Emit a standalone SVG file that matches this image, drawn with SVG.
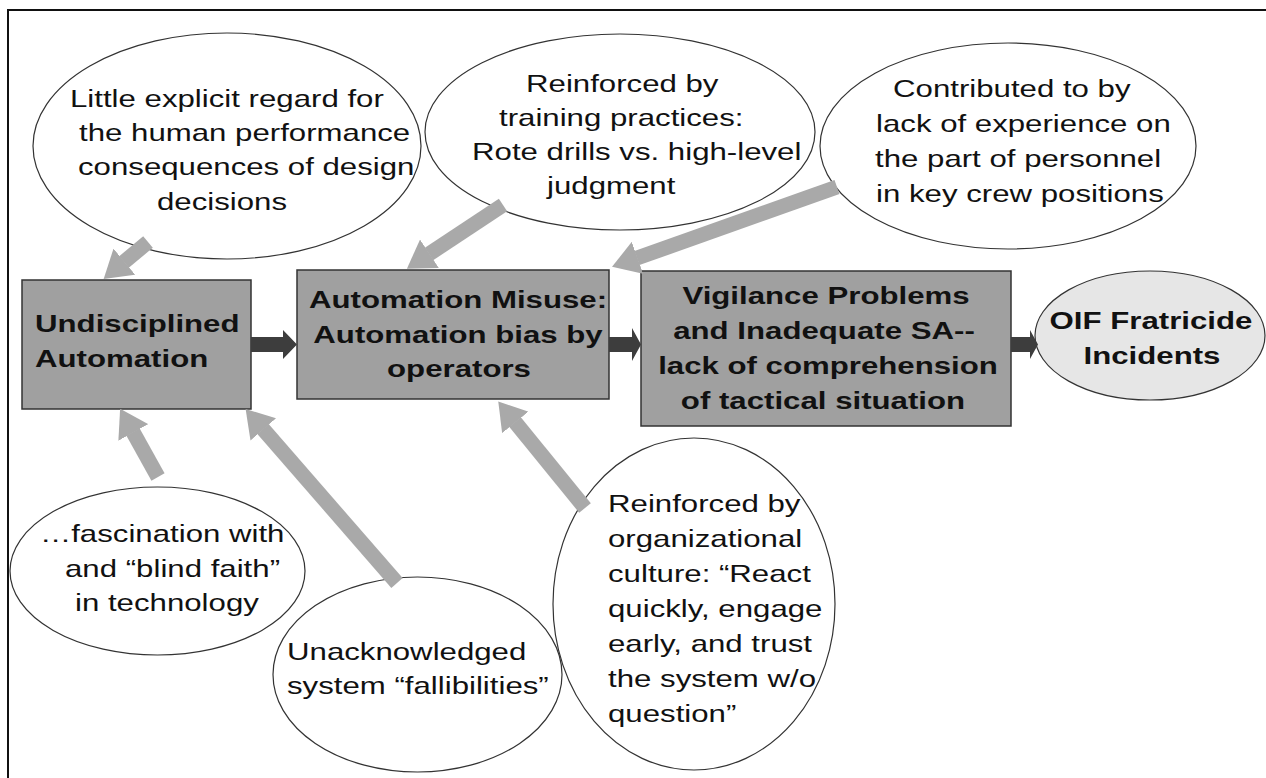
<svg xmlns="http://www.w3.org/2000/svg" width="1266" height="778" viewBox="0 0 1266 778">
<style>
  .bg { fill: #ffffff; }
  .frame { stroke: #111; stroke-width: 2; fill: none; }
  .ell { fill: #ffffff; stroke: #333; stroke-width: 1.2; }
  .box { fill: #a0a0a0; stroke: #333; stroke-width: 1.5; }
  .oif { fill: #e6e6e6; stroke: #333; stroke-width: 1.2; }
  .t { font-family: "Liberation Sans", Arial, sans-serif; font-size: 24px; fill: #111; }
  .b { font-family: "Liberation Sans", Arial, sans-serif; font-size: 24px; font-weight: bold; fill: #111; }
  .m { text-anchor: middle; }
  .ga { stroke: #a9a9a9; stroke-width: 15; fill: none; marker-end: url(#gh); }
  .da { fill: #3d3d3d; stroke: none; }
</style>
<defs>
  <marker id="gh" markerUnits="userSpaceOnUse" markerWidth="27" markerHeight="34" viewBox="0 0 27 34" refX="0.5" refY="17" orient="auto">
    <path d="M0,0 L27,17 L0,34 z" fill="#a9a9a9"/>
  </marker>
</defs>
<rect class="bg" x="0" y="0" width="1266" height="778"/>
<path class="frame" d="M8,778 V10 H1266"/>

<g id="n-design">
  <ellipse class="ell" cx="227" cy="146" rx="194" ry="113"/>
  <text class="t" transform="translate(70 107) scale(1.3 1)">Little explicit regard for</text>
  <text class="t" transform="translate(79 141) scale(1.3 1)">the human performance</text>
  <text class="t" transform="translate(78 175) scale(1.3 1)">consequences of design</text>
  <text class="t" transform="translate(157 210) scale(1.3 1)">decisions</text>
</g>

<g id="n-training">
  <ellipse class="ell" cx="620" cy="132" rx="195" ry="98"/>
  <text class="t" transform="translate(526 92) scale(1.3 1)">Reinforced by</text>
  <text class="t" transform="translate(499 126) scale(1.3 1)">training practices:</text>
  <text class="t" transform="translate(472 160) scale(1.3 1)">Rote drills vs. high-level</text>
  <text class="t" transform="translate(547 194) scale(1.3 1)">judgment</text>
</g>

<g id="n-experience">
  <ellipse class="ell" cx="1008" cy="146" rx="188" ry="103"/>
  <text class="t" transform="translate(893 97) scale(1.3 1)">Contributed to by</text>
  <text class="t" transform="translate(876 132) scale(1.3 1)">lack of experience on</text>
  <text class="t" transform="translate(875 167) scale(1.3 1)">the part of personnel</text>
  <text class="t" transform="translate(876 202) scale(1.3 1)">in key crew positions</text>
</g>

<g id="n-undisciplined">
  <rect class="box" x="22" y="280" width="229" height="129"/>
  <text class="b" transform="translate(35 332) scale(1.3 1)">Undisciplined</text>
  <text class="b" transform="translate(35 367) scale(1.3 1)">Automation</text>
</g>

<g id="n-misuse">
  <rect class="box" x="297" y="270" width="312" height="129"/>
  <text class="b m" transform="translate(458 308) scale(1.3 1)">Automation Misuse:</text>
  <text class="b m" transform="translate(458 343) scale(1.3 1)">Automation bias by</text>
  <text class="b m" transform="translate(459 377) scale(1.3 1)">operators</text>
</g>

<g id="n-vigilance">
  <rect class="box" x="641" y="271" width="370" height="155"/>
  <text class="b m" transform="translate(826 304) scale(1.3 1)">Vigilance Problems</text>
  <text class="b m" transform="translate(824 339) scale(1.3 1)">and Inadequate SA--</text>
  <text class="b m" transform="translate(828 374) scale(1.3 1)">lack of comprehension</text>
  <text class="b m" transform="translate(823 409) scale(1.3 1)">of tactical situation</text>
</g>

<g id="n-oif">
  <ellipse class="oif" cx="1150" cy="335.5" rx="115" ry="64.5"/>
  <text class="b m" transform="translate(1151 329) scale(1.3 1)">OIF Fratricide</text>
  <text class="b m" transform="translate(1152 364) scale(1.3 1)">Incidents</text>
</g>

<g id="n-faith">
  <ellipse class="ell" cx="157.5" cy="571" rx="147.5" ry="84"/>
  <text class="t" transform="translate(40 542) scale(1.3 1)">…fascination with</text>
  <text class="t" transform="translate(65 577) scale(1.3 1)">and “blind faith”</text>
  <text class="t" transform="translate(75 611) scale(1.3 1)">in technology</text>
</g>

<g id="n-fallibilities">
  <ellipse class="ell" cx="417.5" cy="674.5" rx="144.5" ry="97.5"/>
  <text class="t" transform="translate(287 660) scale(1.3 1)">Unacknowledged</text>
  <text class="t" transform="translate(287 694) scale(1.3 1)">system “fallibilities”</text>
</g>

<g id="n-culture">
  <ellipse class="ell" cx="694" cy="604" rx="141" ry="166"/>
  <text class="t" transform="translate(608 512) scale(1.3 1)">Reinforced by</text>
  <text class="t" transform="translate(608 547) scale(1.3 1)">organizational</text>
  <text class="t" transform="translate(608 582) scale(1.3 1)">culture: “React</text>
  <text class="t" transform="translate(608 617) scale(1.3 1)">quickly, engage</text>
  <text class="t" transform="translate(608 652) scale(1.3 1)">early, and trust</text>
  <text class="t" transform="translate(608 687) scale(1.3 1)">the system w/o</text>
  <text class="t" transform="translate(608 722) scale(1.3 1)">question”</text>
</g>

<g id="connectors">
  <path class="da" d="M251,337 H283 V330 L297,344.5 L283,359 V352 H251 z"/>
  <path class="da" d="M609,337 H632 V328 L641,344.5 L632,361 V352 H609 z"/>
  <path class="da" d="M1011,337 H1030 V330 L1038,344.5 L1030,359 V352 H1011 z"/>
  <line class="ga" x1="148" y1="242" x2="124" y2="262"/>
  <line class="ga" x1="503" y1="205" x2="429" y2="254"/>
  <line class="ga" x1="837" y1="187" x2="637" y2="258"/>
  <line class="ga" x1="158" y1="477" x2="133" y2="432"/>
  <line class="ga" x1="397" y1="583" x2="263" y2="429"/>
  <line class="ga" x1="585" y1="508" x2="515" y2="422"/>
</g>
</svg>
